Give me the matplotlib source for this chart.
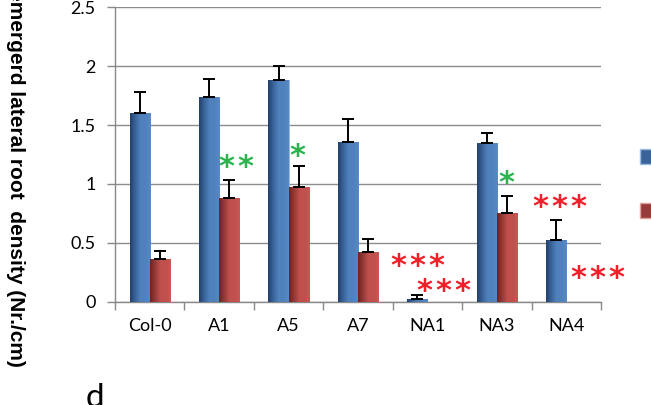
import numpy as np
import matplotlib.pyplot as plt
from matplotlib.colors import LinearSegmentedColormap
from matplotlib.patches import Patch

# data
lines = ['Col-0', 'A1', 'A5', 'A7', 'NA1', 'NA3', 'NA4']
blue_vals = [1.60, 1.74, 1.88, 1.36, 0.02, 1.35, 0.52]
blue_err = [0.18, 0.15, 0.12, 0.19, 0.04, 0.08, 0.17]
red_vals = [0.36, 0.88, 0.97, 0.42, 0.0, 0.75, 0.0]
red_err = [0.07, 0.15, 0.18, 0.11, 0.0, 0.15, 0.0]

# significance marks: (number of stars, centre x in category units, y, colour)
marks = [(2, 1.24, 1.14, 'g'), (1, 2.12, 1.23, 'g'),
         (3, 3.86, 0.30, 'r'), (3, 4.23, 0.085, 'r'),
         (1, 5.13, 1.00, 'g'), (3, 5.90, 0.80, 'r'),
         (3, 6.45, 0.195, 'r')]

blue = '#4F81BD'
red = '#C0504D'
green_txt = '#2DB34E'
red_txt = '#F0202A'

fig = plt.figure(figsize=(6.51, 4.05), dpi=100)
ax = fig.add_axes([115/651, (405-301.7)/405, (601-115)/651, (301.7-7.3)/405])

x = np.arange(len(lines))
w = 0.29
b1 = ax.bar(x - w/2, blue_vals, w, color=blue, edgecolor='#9DB9DD', linewidth=0.6, zorder=3)
b2 = ax.bar(x + w/2, red_vals, w, color=red, edgecolor='#E0A09E', linewidth=0.6, zorder=3)

# shaded look on bars (darker left side)
cm_b = LinearSegmentedColormap.from_list('b', ['#22406A', '#3A6499', blue, blue, '#5A8AC4'])
cm_r = LinearSegmentedColormap.from_list('r', ['#6E2321', '#963B39', red, red, '#C85855'])
grad = np.linspace(0, 1, 64).reshape(1, -1)
for bars, cm in ((b1, cm_b), (b2, cm_r)):
    for p in bars:
        if p.get_height() <= 0:
            continue
        im = ax.imshow(grad, cmap=cm, aspect='auto', zorder=3.5,
                       extent=[p.get_x(), p.get_x() + p.get_width(), 0, p.get_height()])
        im.set_clip_path(p)

# upper error bars only
ax.errorbar(x - w/2, blue_vals, yerr=[np.zeros(len(x)), blue_err], fmt='none',
            ecolor='black', elinewidth=1.4, capsize=4.5, capthick=1.4, zorder=4)
ex = [i + w/2 for i in x if red_vals[i] > 0]
ax.errorbar(ex, [v for v in red_vals if v > 0], yerr=[np.zeros(len(ex)), [e for v, e in zip(red_vals, red_err) if v > 0]],
            fmt='none', ecolor='black', elinewidth=1.4, capsize=4.5, capthick=1.4, zorder=4)

pitch = 0.275
for n, mx, my, c in marks:
    for k in range(n):
        ax.text(mx + (k - (n - 1) / 2) * pitch, my, '*', color=green_txt if c == 'g' else red_txt,
                fontsize=22, ha='center', va='center', family='DejaVu Sans',
                fontweight='bold', zorder=5)

ax.set_xlim(-0.5, 6.5)
ax.set_ylim(0, 2.5)
ax.set_yticks([0, 0.5, 1, 1.5, 2, 2.5])
ax.set_yticklabels(['0', '0.5', '1', '1.5', '2', '2.5'], family='Lato', fontsize=13)
ax.set_xticks(x)
ax.set_xticklabels(lines, family='Lato', fontsize=13)
ax.set_xticks(np.arange(-0.5, 7, 1), minor=True)
ax.tick_params(axis='x', which='major', length=0, pad=12)
ax.tick_params(axis='x', which='minor', length=6, color='#888888', width=1)
ax.tick_params(axis='y', length=6, color='#888888', width=1, pad=8)
ax.grid(axis='y', color='#8C8C8C', linewidth=1, zorder=0)
for sp in ['top', 'right']:
    ax.spines[sp].set_visible(False)
for sp in ['left', 'bottom']:
    ax.spines[sp].set_color('#888888')
    ax.spines[sp].set_linewidth(1)

fig.text(15/651, 1 - 367/405, 'emergerd lateral root  density (Nr./cm)', rotation=270,
         family='Liberation Sans', fontweight='bold', fontsize=15, ha='center', va='bottom')

fig.text(86/651, 1 - 383/405, 'd', family='Lato', fontsize=24, ha='left', va='top')

leg = fig.legend(handles=[Patch(facecolor='#3A6499', edgecolor='#9DB9DD'),
                          Patch(facecolor='#963B39', edgecolor='#E0A09E')],
                 labels=['', ''], loc='upper left', bbox_to_anchor=(624/651, 1 - 132/405),
                 frameon=False, handlelength=0.9, handleheight=0.9, labelspacing=2.0,
                 fontsize=13)

fig.savefig('out.png', dpi=100)
